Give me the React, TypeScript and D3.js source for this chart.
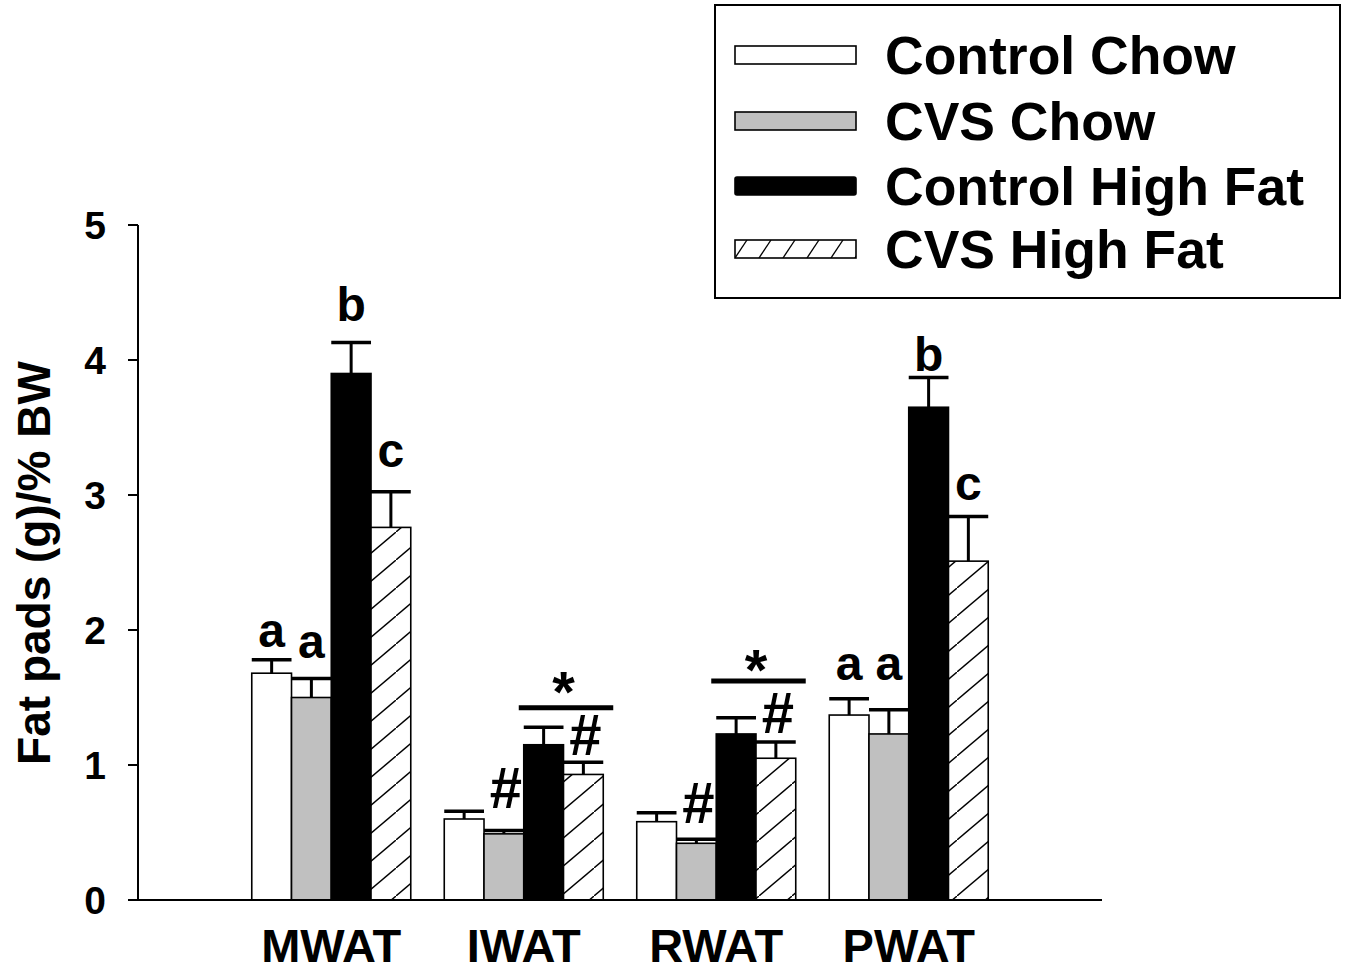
import React from "react";
import * as d3 from "d3";

const categories = ["MWAT", "IWAT", "RWAT", "PWAT"];
const seriesNames = ["Control Chow", "CVS Chow", "Control High Fat", "CVS High Fat"];

const controlChow = [1.68, 0.6, 0.58, 1.37];
const cvsChow = [1.5, 0.49, 0.42, 1.23];
const controlHighFat = [3.9, 1.15, 1.23, 3.65];
const cvsHighFat = [2.76, 0.93, 1.05, 2.51];

const controlChowErr = [0.1, 0.057, 0.067, 0.12];
const cvsChowErr = [0.14, 0.025, 0.03, 0.18];
const controlHighFatErr = [0.23, 0.13, 0.12, 0.22];
const cvsHighFatErr = [0.265, 0.09, 0.12, 0.33];

const yTicks = [0, 1, 2, 3, 4, 5];

// letter / symbol annotations: category, series index, text, baseline value
const letterLabels = [
  { cat: "MWAT", s: 0, text: "a", at: 1.874 },
  { cat: "MWAT", s: 1, text: "a", at: 1.793 },
  { cat: "MWAT", s: 2, text: "b", at: 4.289 },
  { cat: "MWAT", s: 3, text: "c", at: 3.207 },
  { cat: "PWAT", s: 0, text: "a", at: 1.63 },
  { cat: "PWAT", s: 1, text: "a", at: 1.63 },
  { cat: "PWAT", s: 2, text: "b", at: 3.921 },
  { cat: "PWAT", s: 3, text: "c", at: 2.963 },
];
const hashLabels = [
  { cat: "IWAT", s: 1, at: 0.681 },
  { cat: "IWAT", s: 3, at: 1.074 },
  { cat: "RWAT", s: 1, at: 0.57 },
  { cat: "RWAT", s: 3, at: 1.237 },
];
// significance bar over Control HF vs CVS HF: line value, star center value
const sigBars = [
  { cat: "IWAT", at: 1.425, star: 1.64 },
  { cat: "RWAT", at: 1.622, star: 1.804 },
];

const FONT = "'Liberation Sans', Arial, Helvetica, sans-serif";

export default function App() {
  const W = 1347;
  const H = 973;
  const y = d3.scaleLinear().domain([0, 5]).range([900, 225]);
  const x = d3
    .scaleBand<string>()
    .domain(categories)
    .range([138, 1102])
    .paddingInner(0.174)
    .paddingOuter(0.591);
  const xs = d3
    .scaleBand<number>()
    .domain([0, 1, 2, 3])
    .range([0, x.bandwidth()])
    .padding(0);

  const means = [controlChow, cvsChow, controlHighFat, cvsHighFat];
  const errs = [controlChowErr, cvsChowErr, controlHighFatErr, cvsHighFatErr];
  const fills = ["#ffffff", "#c0c0c0", "#000000", "url(#hatch)"];

  const barX = (cat: string, s: number) => (x(cat) as number) + (xs(s) as number);
  const bw = xs.bandwidth();

  const legendRows = [55, 121, 186, 249];

  return (
    <svg
      width={W}
      height={H}
      style={{ position: "absolute", left: 0, top: 0, background: "#fff" }}
      fontFamily={FONT}
      fontWeight="bold"
    >
      <defs>
        <pattern id="hatch" patternUnits="userSpaceOnUse" width={33} height={28}>
          <rect width={33} height={28} fill="#fff" />
          <line x1={0} y1={28} x2={33} y2={0} stroke="#000" strokeWidth={1.4} />
        </pattern>
        <pattern id="hatchLegend" patternUnits="userSpaceOnUse" width={24} height={18} x={735} y={240}>
          <rect width={24} height={18} fill="#fff" />
          <line x1={0} y1={18} x2={12} y2={0} stroke="#000" strokeWidth={1.3} />
          <line x1={24} y1={18} x2={36} y2={0} stroke="#000" strokeWidth={1.3} />
        </pattern>
      </defs>

      {/* bars */}
      {categories.map((cat, ci) =>
        means.map((m, s) => (
          <rect
            key={`${cat}-${s}`}
            x={barX(cat, s)}
            y={y(m[ci])}
            width={bw}
            height={y(0) - y(m[ci])}
            fill={fills[s]}
            stroke="#000"
            strokeWidth={1.6}
          />
        ))
      )}

      {/* error bars */}
      {categories.map((cat, ci) =>
        means.map((m, s) => {
          const cx = barX(cat, s) + bw / 2;
          const top = y(m[ci] + errs[s][ci]);
          return (
            <g key={`e-${cat}-${s}`} stroke="#000">
              <line x1={cx} x2={cx} y1={y(m[ci])} y2={top} strokeWidth={3} />
              <line x1={barX(cat, s)} x2={barX(cat, s) + bw} y1={top} y2={top} strokeWidth={3.5} />
            </g>
          );
        })
      )}

      {/* axes */}
      <line x1={138} x2={138} y1={y(5)} y2={y(0)} stroke="#000" strokeWidth={2} />
      <line x1={128} x2={1102} y1={y(0)} y2={y(0)} stroke="#000" strokeWidth={2} />
      {yTicks.map((t) => (
        <g key={`t-${t}`}>
          <line x1={128} x2={138} y1={y(t)} y2={y(t)} stroke="#000" strokeWidth={2} />
          <text x={106} y={y(t) + 14} textAnchor="end" fontSize={39}>
            {t}
          </text>
        </g>
      ))}
      {categories.map((cat) => (
        <text
          key={`c-${cat}`}
          x={(x(cat) as number) + x.bandwidth() / 2}
          y={962}
          textAnchor="middle"
          fontSize={47}
        >
          {cat}
        </text>
      ))}
      <text
        transform={`translate(50, 563) rotate(-90)`}
        textAnchor="middle"
        fontSize={46}
      >
        Fat pads (g)/% BW
      </text>

      {/* letter annotations */}
      {letterLabels.map((l, i) => (
        <text
          key={`l-${i}`}
          x={barX(l.cat, l.s) + bw / 2}
          y={y(l.at)}
          textAnchor="middle"
          fontSize={48}
        >
          {l.text}
        </text>
      ))}
      {hashLabels.map((l, i) => (
        <text
          key={`h-${i}`}
          x={barX(l.cat, l.s) + bw / 2 + 2}
          y={y(l.at)}
          textAnchor="middle"
          fontSize={58}
        >
          #
        </text>
      ))}
      {sigBars.map((b, i) => {
        const x0 = barX(b.cat, 2) - 5;
        const x1 = barX(b.cat, 3) + bw + 10;
        const mid = barX(b.cat, 3);
        return (
          <g key={`s-${i}`}>
            <line x1={x0} x2={x1} y1={y(b.at)} y2={y(b.at)} stroke="#000" strokeWidth={5} />
            <text x={mid} y={y(b.star) + 0.57 * 58} textAnchor="middle" fontSize={58}>
              *
            </text>
          </g>
        );
      })}

      {/* legend */}
      <rect x={715} y={5} width={625} height={293} fill="#fff" stroke="#000" strokeWidth={2} />
      {seriesNames.map((name, i) => (
        <g key={`lg-${i}`}>
          <rect
            x={735}
            y={legendRows[i] - 9}
            width={121}
            height={18}
            fill={i === 3 ? "url(#hatchLegend)" : fills[i]}
            stroke="#000"
            strokeWidth={1.6}
            rx={i === 2 ? 2 : 0}
          />
          <text x={885} y={legendRows[i] + 19} fontSize={53.5}>
            {name}
          </text>
        </g>
      ))}
    </svg>
  );
}
